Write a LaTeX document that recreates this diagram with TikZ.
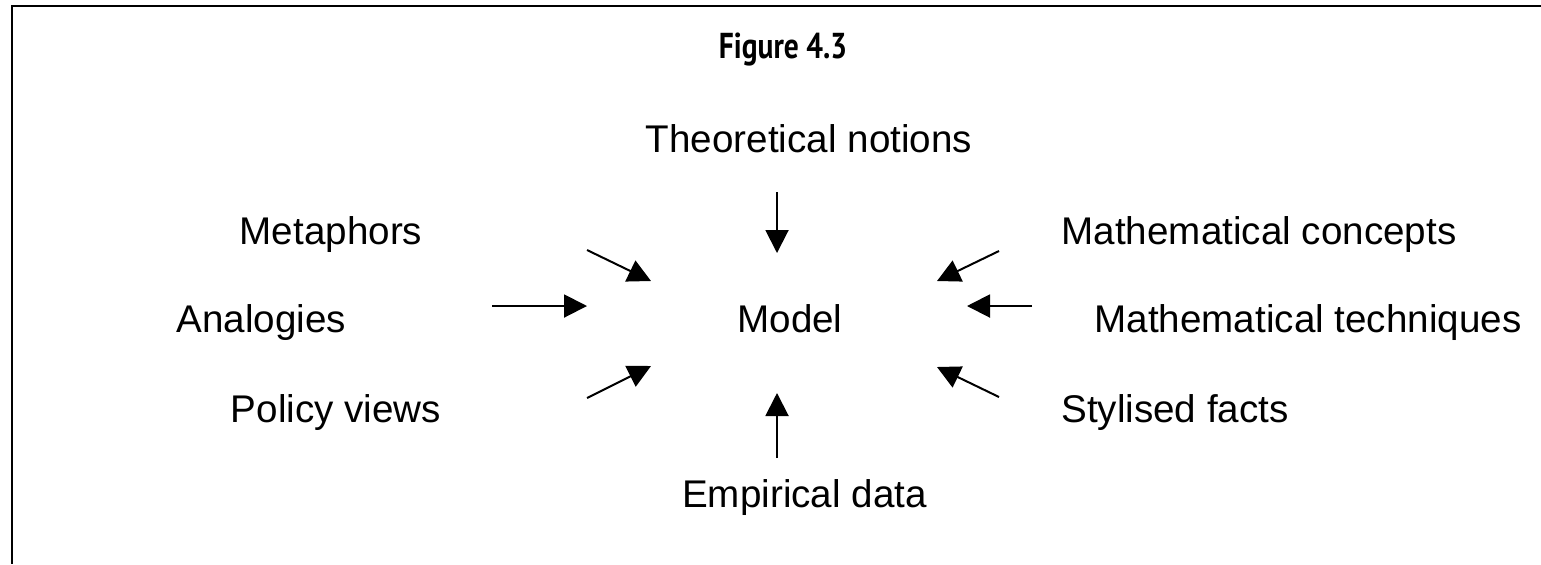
\documentclass[tikz,border=0pt]{standalone}
\usepackage{fontspec}
\setmainfont{Liberation Sans}
\newfontfamily\titlefont{PT Sans}
\usetikzlibrary{arrows.meta}
\begin{document}
\begin{tikzpicture}[x=0.5pt,y=-0.5pt,
  lbl/.style={inner sep=0pt,anchor=base,font=\fontsize{19.3pt}{22pt}\selectfont},
  ttl/.style={inner sep=0pt,anchor=base,font=\titlefont\bfseries\fontsize{18pt}{20pt}\selectfont},
  arr/.style={line width=1pt,-{Triangle[length=11.5pt,width=11.5pt]}},
  frame/.style={line width=1.4pt}]
\useasboundingbox (0,0) rectangle (1541,564);
\draw[frame] (1541,6) -- (12,6) -- (12,564);
\node[ttl] (title) at (783,58) {\scalebox{0.82}[1]{Figure 4.3}};
\node[lbl] (theo) at (809,152) {Theoretical notions};
\node[lbl] (meta) at (331,244) {Metaphors};
\node[lbl] (anal) at (261.5,332) {Analogies};
\node[lbl] (poli) at (336,422) {Policy views};
\node[lbl] (model) at (790,332) {Model};
\node[lbl] (emp) at (804.5,507) {Empirical data};
\node[lbl] (mc) at (1259,244) {Mathematical concepts};
\node[lbl] (mt) at (1308,332) {Mathematical techniques};
\node[lbl] (sty) at (1175,422) {Stylised facts};
\coordinate (a1s) at (777,192); \coordinate (a1e) at (777,253);
\coordinate (a2s) at (587,250); \coordinate (a2e) at (651,281);
\coordinate (a3s) at (492,306); \coordinate (a3e) at (587,306);
\coordinate (a4s) at (587,398); \coordinate (a4e) at (651,366);
\coordinate (a5s) at (777,458); \coordinate (a5e) at (777,393);
\coordinate (a6s) at (999,251); \coordinate (a6e) at (937,281);
\coordinate (a7s) at (1032,306); \coordinate (a7e) at (967,306);
\coordinate (a8s) at (999,397); \coordinate (a8e) at (937,367);
\foreach \i in {1,...,8} {\draw[arr] (a\i s) -- (a\i e);}
\end{tikzpicture}
\end{document}
